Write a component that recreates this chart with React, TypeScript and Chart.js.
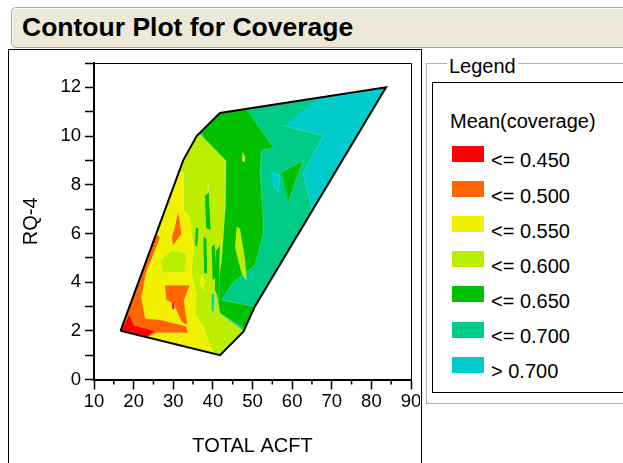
import React, { useEffect, useRef } from 'react';
import { Chart, registerables } from 'chart.js';

Chart.register(...registerables);

const FONT = "'Liberation Sans', Arial, Helvetica, sans-serif";

// ---- axes ----
const X_MIN = 10;
const X_MAX = 90;
const X_STEP = 5;
const X_LABELED = [10, 20, 30, 40, 50, 60, 70, 80, 90];
const X_MINOR = [15, 25, 35, 45, 55, 65, 75, 85];
const Y_MIN = 0;
const Y_MAX = 13;
const Y_STEP = 1;
const Y_LABELED = [0, 2, 4, 6, 8, 10, 12];
const X_TITLE = 'TOTAL ACFT';
const Y_TITLE = 'RQ-4';

// ---- legend levels ----
const LEGEND_TITLE = 'Mean(coverage)';
const LEVEL_LABELS = ['<= 0.450', '<= 0.500', '<= 0.550', '<= 0.600', '<= 0.650', '<= 0.700', '> 0.700'];
const LEVEL_COLORS = ['#FF0000', '#FF6600', '#F2F200', '#BBEE00', '#00C000', '#00CC88', '#00CCCC'];

// ---- contour regions: [TOTAL ACFT, RQ-4] vertices ----
const HULL: number[][] = [[16.7, 2.0], [41.8, 1.0], [47.7, 1.96], [50.6, 3.0], [83.7, 12.0], [41.8, 10.95], [35.9, 10.0], [32.5, 9.0]];
const CYAN_REGION: number[][] = [[66.6, 11.55], [83.7, 12.0], [65.1, 6.95], [62.8, 8.45], [67.9, 10.02], [57.8, 10.43]];
const GREEN_REGION: number[][] = [[41.8, 10.95], [48.5, 11.1], [55.3, 9.51], [52.3, 9.43], [51.9, 8.45], [52.6, 6.95], [52.7, 5.99], [50.6, 4.69], [45.2, 4.01], [42.2, 3.26], [50.6, 3.0], [48.1, 2.1], [41.8, 2.71], [40.1, 3.53], [39.3, 9.0], [37.2, 10.15]];
const LGREEN_REGION: number[][] = [[36.6, 10.1], [43.3, 9.0], [43.1, 6.95], [42.2, 4.9], [41.0, 3.53], [41.8, 2.71], [47.8, 2.0], [41.8, 1.0], [16.7, 2.0], [32.5, 9.0], [35.9, 10.0]];
const YELLOW_REGION: number[][] = [[31.6, 8.59], [32.7, 8.45], [32.5, 6.95], [34.2, 6.67], [35.1, 5.44], [34.6, 4.35], [35.9, 3.53], [35.5, 2.71], [37.6, 2.17], [40.1, 1.07], [16.7, 2.0]];
const LGREEN_PATCH: number[][] = [[26.7, 4.9], [29.6, 5.31], [33.4, 5.17], [33.0, 4.42], [27.5, 4.42]];
const ORANGE_REGION: number[][] = [[25.7, 5.99], [26.66, 5.83], [23.1, 4.35], [22.0, 3.37], [22.9, 2.51], [27.1, 2.44], [33.2, 2.19], [33.8, 1.92], [25.8, 1.92], [23.3, 1.73], [16.9, 2.05]];
const ORANGE_BLOCK: number[][] = [[27.9, 3.87], [34.2, 3.87], [32.7, 3.26], [33.55, 2.23], [32.1, 2.37], [30.0, 3.12], [28.3, 3.26]];
const ORANGE_SPOT: number[][] = [[31.3, 6.88], [32.1, 5.99], [30.0, 5.51], [29.6, 5.83], [30.4, 6.26]];
const RED_CORNER: number[][] = [[16.8, 2.0], [18.9, 2.68], [20.1, 2.23], [25.4, 1.99], [23.3, 1.74]];
const RED_SPOT: number[][] = [[29.8, 3.19], [30.4, 3.15], [30.3, 2.85], [29.7, 2.92]];
const GREEN_TRIANGLE: number[][] = [[57.4, 8.52], [62.8, 9.0], [59.0, 7.29]];
const CYAN_SPOT: number[][] = [[54.6, 8.52], [56.9, 8.38], [56.5, 7.7], [55.1, 7.97]];
const TEAL_SPOT: number[][] = [[39.7, 3.53], [40.5, 3.46], [40.3, 2.71], [39.75, 2.85]];
const GREEN_STREAK_1: number[][] = [[35.7, 6.26], [36.4, 6.2], [36.1, 5.44], [35.5, 5.51]];
const GREEN_STREAK_2: number[][] = [[37.6, 5.85], [38.4, 5.79], [38.6, 4.35], [37.8, 4.35]];
const GREEN_STREAK_3: number[][] = [[39.7, 5.44], [40.5, 5.58], [41.0, 4.21], [39.95, 4.08]];
const GREEN_STREAK_4: number[][] = [[38.0, 7.56], [39.0, 7.68], [39.5, 6.13], [38.3, 6.21]];
const GREEN_STREAK_5: number[][] = [[40.8, 5.31], [41.8, 5.51], [41.55, 3.26], [40.5, 3.67]];
const LGREEN_FINGER: number[][] = [[46.0, 6.26], [46.8, 6.2], [48.1, 4.9], [48.5, 4.08], [47.3, 4.35], [45.6, 5.44]];
const YELLOW_SPOT_1: number[][] = [[47.5, 9.34], [48.1, 9.13], [47.9, 8.93], [47.4, 9.0]];
const YELLOW_SPOT_2: number[][] = [[36.9, 4.28], [38.0, 4.08], [37.6, 3.67], [36.75, 3.94]];
const YELLOW_SPOT_3: number[][] = [[38.5, 8.05], [39.0, 8.05], [38.8, 7.73]];

// drawing order, bottom first; level = index into LEVEL_COLORS
const LAYERS: { pts: number[][]; level: number }[] = [
  { pts: HULL, level: 5 },
  { pts: CYAN_REGION, level: 6 },
  { pts: GREEN_REGION, level: 4 },
  { pts: LGREEN_REGION, level: 3 },
  { pts: YELLOW_REGION, level: 2 },
  { pts: LGREEN_PATCH, level: 3 },
  { pts: ORANGE_REGION, level: 1 },
  { pts: ORANGE_BLOCK, level: 1 },
  { pts: ORANGE_SPOT, level: 1 },
  { pts: RED_CORNER, level: 0 },
  { pts: RED_SPOT, level: 0 },
  { pts: GREEN_TRIANGLE, level: 4 },
  { pts: CYAN_SPOT, level: 6 },
  { pts: TEAL_SPOT, level: 5 },
  { pts: GREEN_STREAK_1, level: 4 },
  { pts: GREEN_STREAK_2, level: 4 },
  { pts: GREEN_STREAK_3, level: 4 },
  { pts: GREEN_STREAK_4, level: 4 },
  { pts: GREEN_STREAK_5, level: 4 },
  { pts: LGREEN_FINGER, level: 3 },
  { pts: YELLOW_SPOT_1, level: 2 },
  { pts: YELLOW_SPOT_2, level: 2 },
  { pts: YELLOW_SPOT_3, level: 2 },
];

const framePlugin = {
  id: 'frameAndMinorTicks',
  afterDraw(chart: any) {
    const { ctx, chartArea: a, scales } = chart;
    ctx.save();
    ctx.strokeStyle = '#000';
    ctx.lineWidth = 1;
    ctx.beginPath();
    ctx.moveTo(a.left, Math.round(a.top) + 0.5);
    ctx.lineTo(Math.round(a.right) + 0.5, Math.round(a.top) + 0.5);
    ctx.lineTo(Math.round(a.right) + 0.5, a.bottom);
    ctx.stroke();
    const xs = scales.x;
    ctx.lineWidth = 1.5;
    X_MINOR.forEach((v) => {
      const px = xs.getPixelForValue(v);
      ctx.beginPath();
      ctx.moveTo(px, a.bottom);
      ctx.lineTo(px, a.bottom + 5);
      ctx.stroke();
    });
    ctx.restore();
  },
};

function ContourChart() {
  const ref = useRef<HTMLCanvasElement | null>(null);
  useEffect(() => {
    if (!ref.current) return;
    const n = LAYERS.length;
    const datasets: any[] = LAYERS.map((layer, i) => ({
      data: layer.pts.map(([x, y]) => ({ x, y })),
      backgroundColor: LEVEL_COLORS[layer.level],
      borderColor: i === 0 ? 'transparent' : 'rgba(255,255,255,0.3)',
      borderWidth: 0.6,
      fill: 'shape',
      pointRadius: 0,
      pointHitRadius: 0,
      tension: 0,
      order: n + 1 - i,
    }));
    datasets.push({
      data: [...HULL, HULL[0]].map(([x, y]) => ({ x, y })),
      borderColor: '#000',
      borderWidth: 2,
      fill: false,
      pointRadius: 0,
      pointHitRadius: 0,
      tension: 0,
      order: 0,
    });
    const tickFont = { family: FONT, size: 18.5 };
    const titleFont = { family: FONT, size: 20 };
    const chart = new Chart(ref.current, {
      type: 'line',
      data: { datasets },
      plugins: [framePlugin],
      options: {
        animation: false,
        responsive: false,
        events: [],
        layout: { padding: { left: 0, right: 9, top: 13, bottom: 0 } },
        plugins: { legend: { display: false }, tooltip: { enabled: false } },
        scales: {
          x: {
            type: 'linear',
            min: X_MIN,
            max: X_MAX,
            afterFit: (s: any) => {
              s.height = 83.5;
              s.paddingLeft = 0;
              s.paddingRight = 0;
            },
            ticks: {
              stepSize: X_STEP,
              autoSkip: false,
              maxRotation: 0,
              padding: 1,
              color: '#000',
              font: tickFont,
              callback: (v: any) => (X_LABELED.includes(Math.round(Number(v))) ? String(Math.round(Number(v))) : ''),
            },
            grid: {
              drawOnChartArea: false,
              drawTicks: true,
              tickLength: 10,
              tickWidth: 1.5,
              tickColor: (c: any) => (c.tick && X_LABELED.includes(Math.round(c.tick.value)) ? '#000' : 'rgba(0,0,0,0)'),
            },
            border: { display: true, color: '#000', width: 2 },
            title: { display: true, text: X_TITLE, color: '#000', font: titleFont, padding: { top: 0, bottom: 5 } },
          },
          y: {
            type: 'linear',
            min: Y_MIN,
            max: Y_MAX,
            afterFit: (s: any) => {
              s.width = 85;
              s.paddingTop = 0;
              s.paddingBottom = 0;
            },
            ticks: {
              stepSize: Y_STEP,
              autoSkip: false,
              padding: 4,
              color: '#000',
              font: tickFont,
              callback: (v: any) => (Y_LABELED.includes(Math.round(Number(v))) ? String(Math.round(Number(v))) : ''),
            },
            grid: { drawOnChartArea: false, drawTicks: true, tickLength: 9, tickWidth: 1.5, tickColor: '#000' },
            border: { display: true, color: '#000', width: 2 },
            title: { display: true, text: Y_TITLE, color: '#000', font: titleFont, padding: { top: 10, bottom: 0 } },
          },
        },
      } as any,
    });
    return () => chart.destroy();
  }, []);
  return <canvas ref={ref} width={411} height={413} style={{ position: 'absolute', left: 9, top: 50, width: 411, height: 413 }} />;
}

export default function App() {
  return (
    <div style={{ position: 'absolute', left: 0, top: 0, width: 623, height: 463, overflow: 'hidden', background: '#fff', fontFamily: FONT, color: '#000' }}>
      <div style={{ position: 'absolute', left: 11, top: 7, width: 650, height: 39, background: '#ECE9D8', border: '1px solid #A7A597', borderRadius: 5, boxShadow: 'inset 1px 1px 0 #fff' }} />
      <div style={{ position: 'absolute', left: 22, top: 14.2, fontSize: 26.5, lineHeight: '26.5px', fontWeight: 'bold', whiteSpace: 'nowrap' }}>Contour Plot for Coverage</div>

      <div style={{ position: 'absolute', left: 8, top: 49, width: 412, height: 430, border: '1px solid #000' }} />
      <ContourChart />

      <div style={{ position: 'absolute', left: 426, top: 63, width: 250, height: 339, border: '1px solid #B4B1A3', boxShadow: 'inset 1px 1px 0 #fff' }} />
      <div style={{ position: 'absolute', left: 447, top: 55.8, fontSize: 20, lineHeight: '20px', background: '#fff', padding: '0 2px', whiteSpace: 'nowrap' }}>Legend</div>
      <div style={{ position: 'absolute', left: 432, top: 82, width: 250, height: 309, border: '1px solid #000', background: '#fff' }} />
      <div style={{ position: 'absolute', left: 450, top: 111, fontSize: 20, lineHeight: '20px', whiteSpace: 'nowrap' }}>{LEGEND_TITLE}</div>
      {LEVEL_LABELS.map((label, i) => (
        <React.Fragment key={label}>
          <div style={{ position: 'absolute', left: 452, top: Math.round(146 + 35.1 * i), width: 32, height: 16, background: LEVEL_COLORS[i] }} />
          <div style={{ position: 'absolute', left: 491, top: 150.4 + 35.1 * i, fontSize: 20, lineHeight: '20px', whiteSpace: 'nowrap' }}>{label}</div>
        </React.Fragment>
      ))}
    </div>
  );
}
